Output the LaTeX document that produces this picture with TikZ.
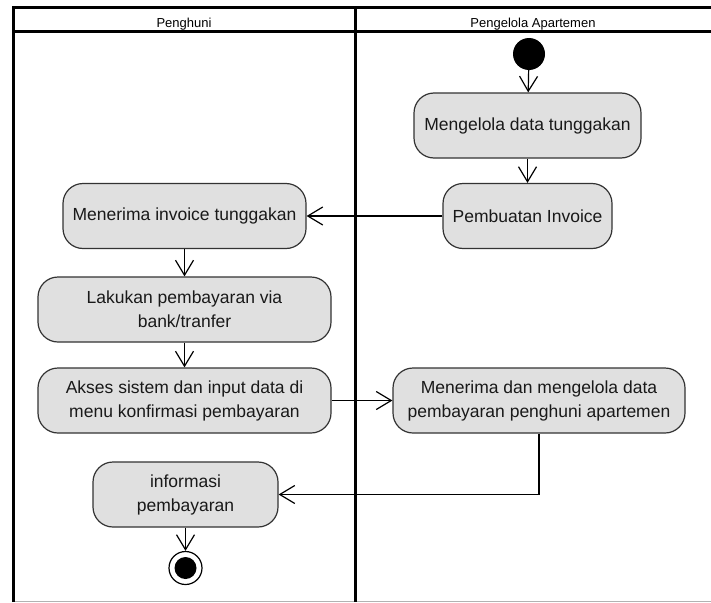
\documentclass[tikz,border=0pt]{standalone}
\usepackage{fontspec}
\setmainfont{Liberation Sans}
\usetikzlibrary{arrows.meta}
\newcommand\titlefont{\fontsize{13}{15}\selectfont}
\tikzset{
  act/.style={draw=black!80, line width=1.2pt, fill=black!12, rounded corners=20pt,
    minimum height=65pt, inner sep=0pt, align=center,
    font=\fontsize{17.5}{24}\selectfont, text=black!90},
  flow/.style={line width=1.2pt, -{Straight Barb[length=15pt,width=18pt]}},
  lane/.style={line width=3pt},
  lanetitle/.style={anchor=base, inner sep=0pt},
}

\begin{document}
\begin{tikzpicture}[x=1pt, y=-1pt]
		%%%%% START %%%%%
		\useasboundingbox (0,0) rectangle (711,602);
		
		% swimlanes
		\draw[gray!60, line width=1pt] (13,601.5) -- (711,601.5);
		\draw[lane] (13,602) -- (13,8) -- (711,8);
		\draw[lane] (13,31.5) -- (711,31.5);
		\draw[lane] (355,8) -- (355,602);
		\node[lanetitle] (lanea) at (184,27.5) {\titlefont Penghuni};
		\node[lanetitle] (laneb) at (533,27.5) {\titlefont Pengelola Apartemen};
		
		% Pengelola Apartemen
		\node[circle, fill=black, minimum size=32pt, inner sep=0pt] (start) at (529,54) {};
		\node[act, minimum width=227pt] (mdt) at (527.5,125.5) {Mengelola data tunggakan};
		\node[act, minimum width=169pt] (inv) at (527.5,216) {Pembuatan Invoice};
		\node[act, minimum width=292pt] (mdp) at (539,400.5) {Menerima dan mengelola data\\pembayaran penghuni apartemen};
		
		% Penghuni
		\node[act, minimum width=243pt] (mit) at (184.5,216) {Menerima invoice tunggakan};
		\node[act, minimum width=293pt] (lpb) at (184.5,309.5) {Lakukan pembayaran via\\bank/tranfer};
		\node[act, minimum width=293pt] (aks) at (184.5,400.5) {Akses sistem dan input data di\\menu konfirmasi pembayaran};
		\node[act, minimum width=185pt] (info) at (185.5,494.5) {informasi\\pembayaran};
		\node[circle, draw, line width=1.2pt, minimum size=33pt, inner sep=0pt] (stop) at (185.5,568) {};
		\node[circle, fill=black, minimum size=22pt, inner sep=0pt] (stopdot) at (stop) {};
		
		% flows
		\draw[flow] (start) -- (mdt);
		\draw[flow] (mdt) -- (inv);
		\draw[flow] (inv) -- (mit);
		\draw[flow] (mit) -- (lpb);
		\draw[flow] (lpb) -- (aks);
		\draw[flow] (aks) -- (mdp);
		\draw[flow] (mdp.south) |- (info.east);
		\draw[flow] (info) -- (stop);
		%%%%% END %%%%%
\end{tikzpicture}
\end{document}
